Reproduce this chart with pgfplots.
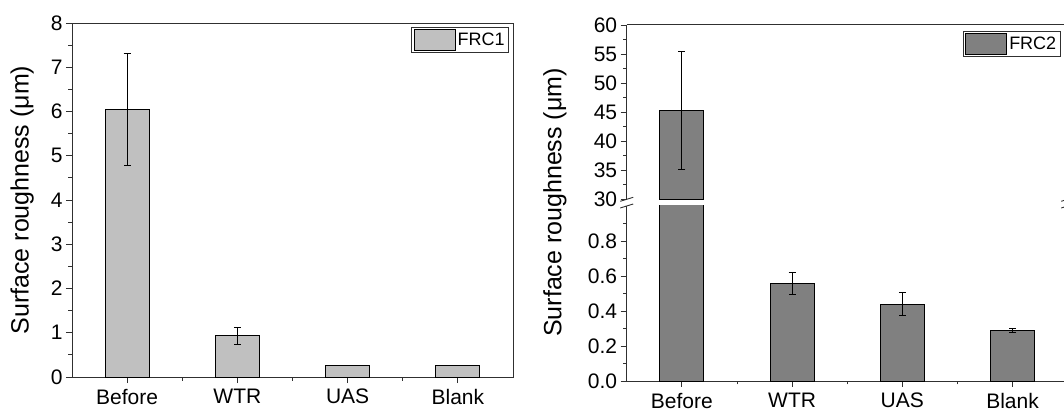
\documentclass[border=0pt]{standalone}
\usepackage{fontspec}
\setmainfont{Liberation Sans}
\usepackage{pgfplots}
\usepackage{pgfplotstable}
\pgfplotsset{compat=1.18}

\definecolor{barA}{HTML}{C0C0C0}
\definecolor{barB}{HTML}{808080}
\definecolor{axcol}{HTML}{303030}

\pgfplotstableread{
x y e
0 6.05 1.27
1 0.93 0.19
2 0.25 0
3 0.25 0
}\frcone

\pgfplotstableread{
x y e
0 45.3 10.1
1 0.557 0.061
2 0.439 0.067
3 0.288 0.013
}\frctwo

\pgfplotsset{
  common/.style={
    scale only axis, width=441pt,
    xmin=-0.5, xmax=3.5,
    tick align=outside,
    major tick length=6pt, minor tick length=3.5pt,
    every tick/.style={axcol, line width=0.9pt},
    axis line style={axcol, line width=1pt, -},
    tick label style={font=\fontsize{21}{24}\selectfont, text=black},
    xticklabel style={yshift=-2.5pt},
    /pgf/number format/assume math mode=true,
    xtick={0,1,2,3}, xticklabels={Before,WTR,UAS,Blank},
    minor x tick num=1,
    ybar, bar width=44pt,
    clip mode=individual,
    legend image code/.code={\draw[#1] (0pt,-10.5pt) rectangle (41pt,10.5pt);},
    legend style={draw=axcol, line width=0.8pt, font=\fontsize{18}{20}\selectfont,
      inner xsep=2pt, inner ysep=1.5pt, anchor=north east},
    ylabel style={font=\fontsize{25}{28}\selectfont},
  },
  errs/.style={error bars/.cd, y dir=both, y explicit,
    error bar style={line width=0.9pt, black},
    error mark options={rotate=90, mark size=3.5pt, line width=0.9pt, black}},
}

\begin{document}
\begin{tikzpicture}
% ---------------- left panel ----------------
\begin{axis}[common, at={(72pt,35pt)}, anchor=south west, height=354pt,
  ymin=0, ymax=8, ytick={0,1,2,3,4,5,6,7,8}, minor y tick num=1,
  tick pos=left,
  ylabel={Surface roughness (μm)},
  ylabel style={at={(axis description cs:-0.113,0.5)}, anchor=center},
  legend style={at={(rel axis cs:0.991,0.9887)}}]
\addplot[fill=barA, draw=black, line width=0.9pt, errs] table[x=x, y=y, y error=e] {\frcone};
\legend{FRC1}
\end{axis}

% ---------------- right panel, lower part ----------------
\begin{axis}[common, at={(626.7pt,31pt)}, anchor=south west, height=175pt,
  ymin=0, ymax=1, ytick={0,0.2,0.4,0.6,0.8}, minor ytick={0.1,0.3,0.5,0.7,0.9},
  axis x line*=bottom, axis y line*=left, xtick pos=left, ytick pos=left,
  yticklabel style={/pgf/number format/.cd, fixed, fixed zerofill, precision=1},
  ylabel={Surface roughness (μm)},
  ylabel style={at={(axis description cs:-0.163,1.02)}, anchor=center}]
\addplot[fill=barB, draw=black, line width=0.9pt, errs] table[x=x, y=y, y error=e] {\frctwo};
\draw[axcol, line width=0.9pt] ([shift={(-6.5pt,-2pt)}]rel axis cs:0,1) -- ([shift={(6.5pt,2pt)}]rel axis cs:0,1);
\draw[axcol, line width=0.9pt] ([shift={(-6.5pt,-2pt)}]rel axis cs:1,1) -- ([shift={(6.5pt,2pt)}]rel axis cs:1,1);
\end{axis}

% ---------------- right panel, upper part ----------------
\begin{axis}[common, at={(626.7pt,212.7pt)}, anchor=south west, height=174.3pt,
  ymin=30, ymax=60, ytick={30,35,40,45,50,55,60}, minor y tick num=1,
  axis x line*=top, axis y line*=left, xtick=\empty, ytick pos=left,
  legend style={at={(rel axis cs:0.984,0.9656)}}]
\addplot[fill=barB, draw=black, line width=0.9pt, errs] table[x=x, y=y, y error=e, skip coords between index={1}{4}] {\frctwo};
\legend{FRC2}
\draw[axcol, line width=0.9pt] ([shift={(-6.5pt,-2pt)}]rel axis cs:0,0) -- ([shift={(6.5pt,2pt)}]rel axis cs:0,0);
\draw[axcol, line width=0.9pt] ([shift={(-6.5pt,-2pt)}]rel axis cs:1,0) -- ([shift={(6.5pt,2pt)}]rel axis cs:1,0);
\end{axis}

\pgfresetboundingbox
\path[use as bounding box] (0,0) rectangle (1064pt,412pt);
\end{tikzpicture}
\end{document}
